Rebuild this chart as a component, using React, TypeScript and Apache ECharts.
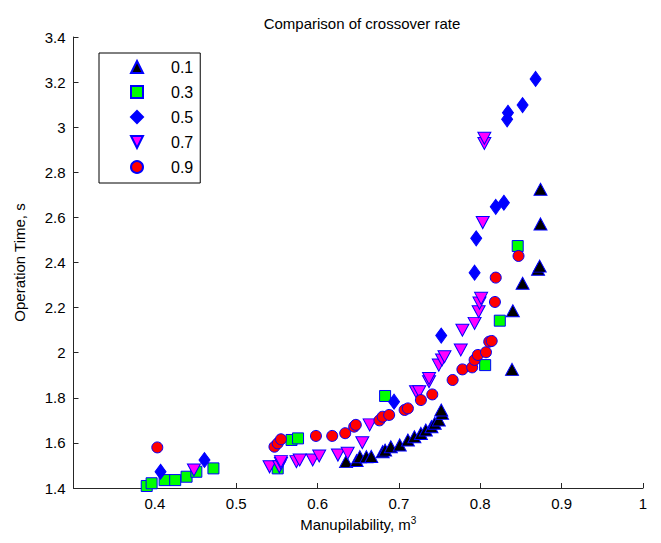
import React, { useEffect, useRef } from "react";
import * as echarts from "echarts";

const seriesNames = ["0.1", "0.3", "0.5", "0.7", "0.9"];

const rate01: number[][] = [
  [0.635, 1.517], [0.648, 1.522], [0.652, 1.539], [0.660, 1.539], [0.666, 1.540],
  [0.680, 1.561], [0.683, 1.568], [0.690, 1.583], [0.701, 1.591], [0.711, 1.613],
  [0.719, 1.627], [0.727, 1.642], [0.733, 1.657], [0.740, 1.672], [0.744, 1.687],
  [0.749, 1.702], [0.753, 1.731], [0.752, 1.746], [0.839, 1.926], [0.840, 2.186],
  [0.852, 2.308], [0.871, 2.370], [0.873, 2.384], [0.874, 2.571], [0.874, 2.725],
];

const rate03: number[][] = [
  [0.390, 1.409], [0.396, 1.421], [0.412, 1.435], [0.425, 1.435], [0.439, 1.450],
  [0.451, 1.472], [0.472, 1.487], [0.551, 1.487], [0.568, 1.613], [0.576, 1.620],
  [0.683, 1.808], [0.806, 1.945], [0.824, 2.142], [0.846, 2.473],
];

const rate05: number[][] = [
  [0.407, 1.472], [0.461, 1.524], [0.694, 1.783], [0.752, 2.076], [0.793, 2.355],
  [0.795, 2.507], [0.819, 2.647], [0.829, 2.665], [0.833, 3.035], [0.834, 3.064],
  [0.852, 3.098], [0.868, 3.214],
];

const rate07: number[][] = [
  [0.448, 1.480], [0.541, 1.494], [0.553, 1.494], [0.555, 1.509], [0.555, 1.517],
  [0.574, 1.517], [0.578, 1.524], [0.594, 1.524], [0.602, 1.542], [0.625, 1.546],
  [0.637, 1.554], [0.655, 1.601], [0.664, 1.680], [0.721, 1.827], [0.725, 1.827],
  [0.737, 1.871], [0.737, 1.886], [0.749, 1.945], [0.753, 1.968], [0.756, 1.982],
  [0.776, 2.012], [0.778, 2.100], [0.793, 2.130], [0.798, 2.182], [0.799, 2.220],
  [0.801, 2.241], [0.803, 2.577], [0.805, 2.928], [0.805, 2.951],
];

const rate09: number[][] = [
  [0.403, 1.580], [0.547, 1.583], [0.551, 1.598], [0.555, 1.616], [0.598, 1.631],
  [0.618, 1.631], [0.634, 1.643], [0.645, 1.672], [0.647, 1.680], [0.676, 1.700],
  [0.680, 1.716], [0.688, 1.724], [0.707, 1.746], [0.711, 1.753], [0.727, 1.790],
  [0.741, 1.815], [0.766, 1.879], [0.778, 1.926], [0.790, 1.935], [0.793, 1.968],
  [0.797, 1.990], [0.807, 2.002], [0.811, 2.049], [0.814, 2.052], [0.818, 2.225],
  [0.819, 2.333], [0.847, 2.429],
];

const titleText = "Comparison of crossover rate";
const xName = "Manupilability, m";
const yName = "Operation Time, s";

const FONT = "'Liberation Sans', Arial, sans-serif";
const DOWN_TRI = "path://M0,0 L10,0 L5,10 Z";

export default function App() {
  const ref = useRef<HTMLDivElement>(null);
  useEffect(() => {
    if (!ref.current) return;
    const chart = echarts.init(ref.current, undefined, { renderer: "svg" });
    const edge = { borderColor: "#0000ff", borderWidth: 1 };
    const datasets = [rate01, rate03, rate05, rate07, rate09];
    const styles = [
      { symbol: "triangle", symbolSize: [13, 12], color: "#000000" },
      { symbol: "rect", symbolSize: 11, color: "#00ff00" },
      { symbol: "diamond", symbolSize: [11, 15], color: "#0000ff" },
      { symbol: DOWN_TRI, symbolSize: [13, 12], color: "#ff00ff" },
      { symbol: "circle", symbolSize: 11, color: "#ff0000" },
    ];
    chart.setOption({
      animation: false,
      backgroundColor: "#ffffff",
      title: {
        text: titleText,
        left: 357,
        textAlign: "center",
        top: 11,
        textStyle: { fontFamily: FONT, fontSize: 15, fontWeight: "normal", color: "#000" },
      },
      grid: { left: 73.5, right: 18, top: 37, bottom: 55 },
      legend: {
        orient: "vertical",
        left: 99,
        top: 53,
        data: seriesNames,
        itemWidth: 12,
        itemHeight: 12,
        itemGap: 9,
        padding: [6, 7, 8, 31],
        borderColor: "#000",
        borderWidth: 1,
        textStyle: { fontFamily: FONT, fontSize: 16, color: "#000", padding: [0, 0, 0, 23] },
      },
      xAxis: {
        type: "value",
        min: 0.3,
        max: 1,
        interval: 0.1,
        name: `{a|${xName}}{s|3}`,
        nameLocation: "middle",
        nameGap: 26,
        nameTextStyle: {
          rich: {
            a: { fontFamily: FONT, fontSize: 15, color: "#000" },
            s: { fontFamily: FONT, fontSize: 10, color: "#000", verticalAlign: "top", padding: [0, 0, 8, 0] },
          },
        },
        axisLine: { lineStyle: { color: "#262626" } },
        axisTick: { inside: true, length: 5, lineStyle: { color: "#262626" } },
        axisLabel: {
          fontFamily: FONT,
          fontSize: 15,
          color: "#000",
          margin: 8,
          formatter: (v: number) => (Math.abs(v - 0.3) < 1e-6 ? "" : Math.abs(v - 1) < 1e-6 ? "1" : v.toFixed(1)),
        },
        splitLine: { show: false },
      },
      yAxis: {
        type: "value",
        min: 1.4,
        max: 3.4,
        interval: 0.2,
        name: yName,
        nameLocation: "middle",
        nameGap: 47,
        nameTextStyle: { fontFamily: FONT, fontSize: 15, color: "#000" },
        axisLine: { show: true, lineStyle: { color: "#262626" } },
        axisTick: { show: true, inside: true, length: 5, lineStyle: { color: "#262626" } },
        axisLabel: {
          fontFamily: FONT,
          fontSize: 15,
          color: "#000",
          margin: 8,
          formatter: (v: number) => {
            const r = Math.round(v * 10) / 10;
            return Number.isInteger(r) ? String(r) : r.toFixed(1);
          },
        },
        splitLine: { show: false },
      },
      series: datasets.map((d, i) => ({
        type: "scatter",
        name: seriesNames[i],
        data: d,
        symbol: styles[i].symbol,
        symbolSize: styles[i].symbolSize,
        itemStyle: { color: styles[i].color, ...edge, opacity: 1 },
        emphasis: { disabled: true },
      })),
    });
    return () => chart.dispose();
  }, []);
  return (
    <div
      ref={ref}
      style={{ position: "absolute", left: 0, top: 0, width: 661, height: 543 }}
    />
  );
}
